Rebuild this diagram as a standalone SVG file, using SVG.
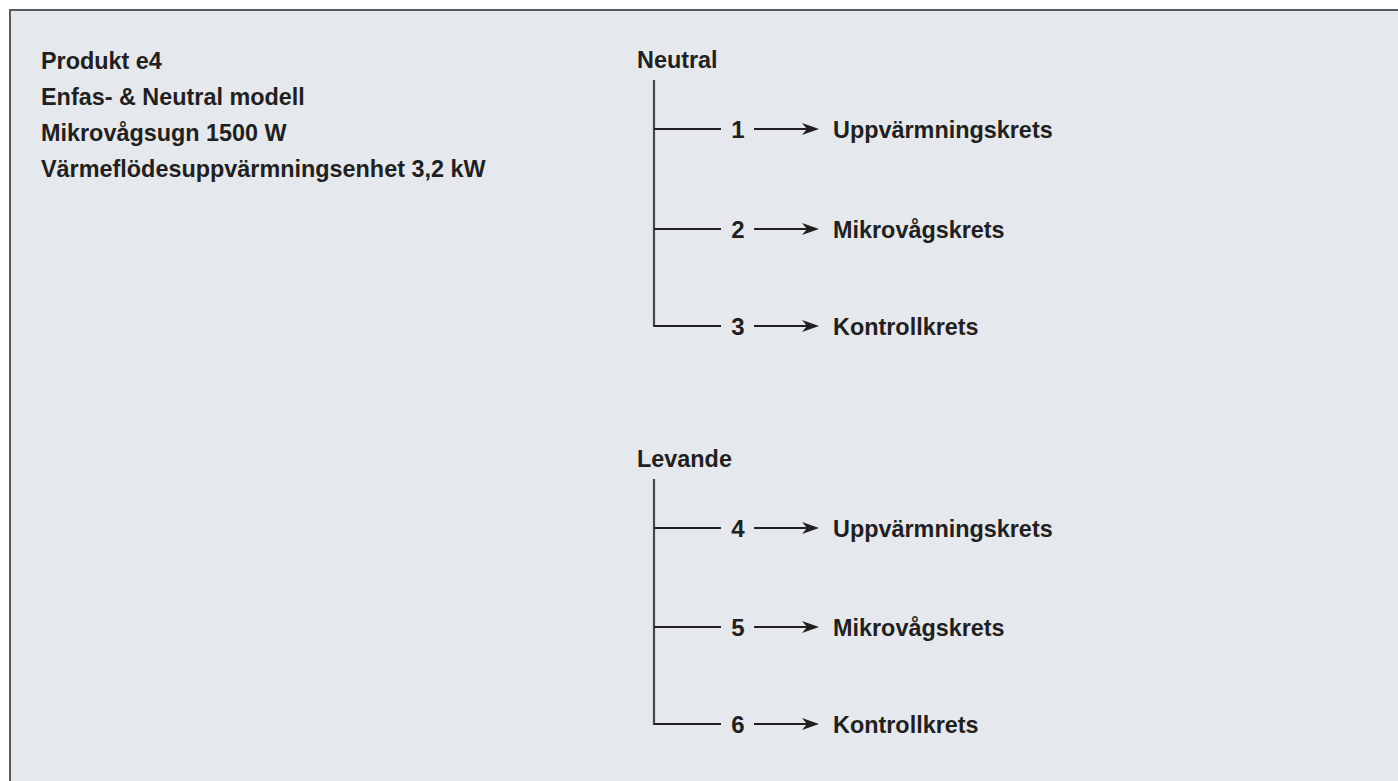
<svg xmlns="http://www.w3.org/2000/svg" width="1398" height="781" viewBox="0 0 1398 781">
<style>
text{font-family:"Liberation Sans",Arial,sans-serif;font-weight:bold;fill:#231f20;}
.t{font-size:23.4px;}
.h{font-size:23.4px;}
.lbl{font-size:23.4px;}
.num{font-size:24px;text-anchor:middle;}
.trunk{stroke:#3b4a55;stroke-width:2.2;fill:none;}
.br{stroke:#231f20;stroke-width:2;fill:none;}
</style>
<defs>
<path id="ah" d="M0,0 L-17,-6 L-12,0 L-17,6 Z" fill="#231f20"/>
</defs>
<rect x="0" y="0" width="1398" height="781" fill="#ffffff"/>
<rect x="10" y="10" width="1400" height="800" fill="#e5e8ec" stroke="#5a5a5a" stroke-width="2"/>
<g id="title">
<text class="t" x="41" y="69">Produkt e4</text>
<text class="t" x="41" y="105">Enfas- &amp; Neutral modell</text>
<text class="t" x="41" y="141">Mikrovågsugn 1500 W</text>
<text class="t" x="41" y="177">Värmeflödesuppvärmningsenhet 3,2 kW</text>
</g>
<g id="neutral"><text class="h" x="637" y="68">Neutral</text></g>
<g id="levande"><text class="h" x="637" y="467">Levande</text></g>
<g id="connectors">
<path class="trunk" d="M654,80 V327"/>
<path class="br" d="M654,129 H721 M654,229 H721 M654,326 H721"/>
<path class="br" d="M754,129 H808 M754,229 H808 M754,326 H808"/>
<use href="#ah" x="819" y="129"/>
<use href="#ah" x="819" y="229"/>
<use href="#ah" x="819" y="326"/>
<path class="trunk" d="M654,479 V725"/>
<path class="br" d="M654,528 H721 M654,627 H721 M654,724 H721"/>
<path class="br" d="M754,528 H808 M754,627 H808 M754,724 H808"/>
<use href="#ah" x="819" y="528"/>
<use href="#ah" x="819" y="627"/>
<use href="#ah" x="819" y="724"/>
</g>
<g id="n1"><text class="num" x="738" y="138">1</text><text class="lbl" x="833" y="138">Uppvärmningskrets</text></g>
<g id="n2"><text class="num" x="738" y="238">2</text><text class="lbl" x="833" y="238">Mikrovågskrets</text></g>
<g id="n3"><text class="num" x="738" y="335">3</text><text class="lbl" x="833" y="335">Kontrollkrets</text></g>
<g id="n4"><text class="num" x="738" y="537">4</text><text class="lbl" x="833" y="537">Uppvärmningskrets</text></g>
<g id="n5"><text class="num" x="738" y="636">5</text><text class="lbl" x="833" y="636">Mikrovågskrets</text></g>
<g id="n6"><text class="num" x="738" y="733">6</text><text class="lbl" x="833" y="733">Kontrollkrets</text></g>
</svg>
